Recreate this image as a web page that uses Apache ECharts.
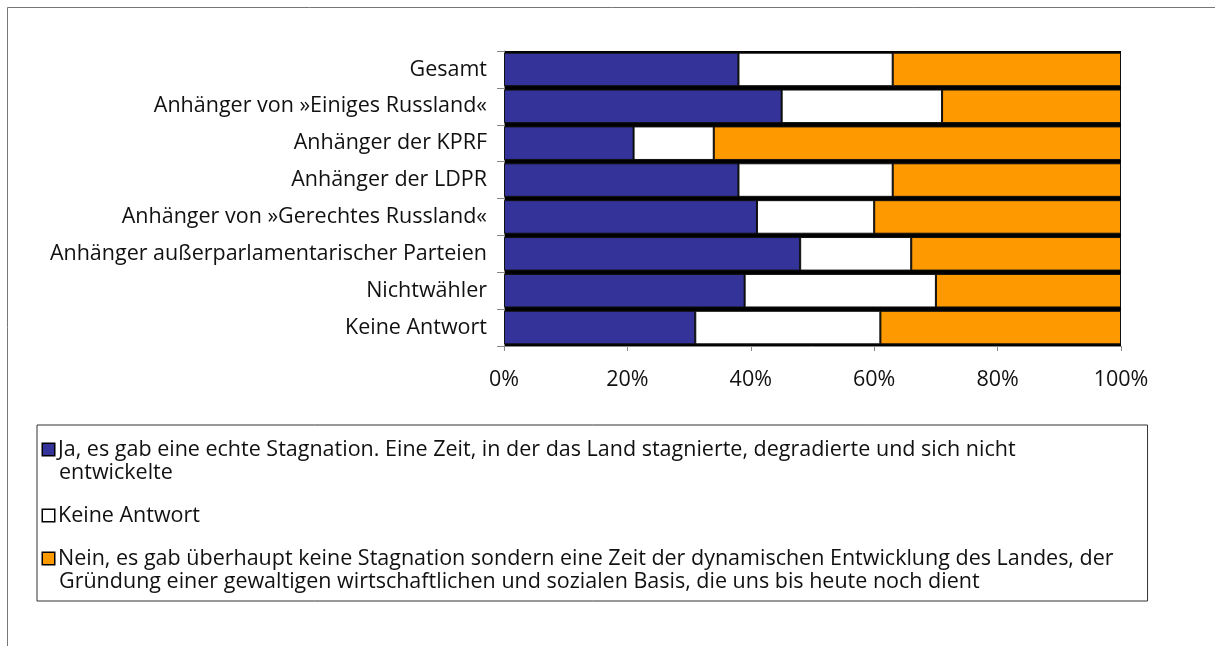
<!DOCTYPE html>
<html>
<head>
<meta charset="utf-8">
<script src="https://cdn.jsdelivr.net/npm/echarts@6/dist/echarts.min.js"></script>
<style>
  html, body { margin: 0; padding: 0; background: #fff; }
  #chart { width: 1215px; height: 646px; }
</style>
</head>
<body>
<div id="chart"></div>
<script>
// Kategorien (von oben nach unten)
const categories = [
    'Gesamt',
    'Anhänger von »Einiges Russland«',
    'Anhänger der KPRF',
    'Anhänger der LDPR',
    'Anhänger von »Gerechtes Russland«',
    'Anhänger außerparlamentarischer Parteien',
    'Nichtwähler',
    'Keine Antwort'
]

// Anteile in %
const jaValues = [38, 45, 21, 38, 41, 48, 39, 31]
const keineValues = [25, 26, 13, 25, 19, 18, 31, 30]
const neinValues = [37, 29, 66, 37, 40, 34, 30, 39]

const seriesNames = [
    'Ja, es gab eine echte Stagnation. Eine Zeit, in der das Land stagnierte, degradierte und sich nicht entwickelte',
    'Keine Antwort ',
    'Nein, es gab überhaupt keine Stagnation sondern eine Zeit der dynamischen Entwicklung des Landes, der Gründung einer gewaltigen wirtschaftlichen und sozialen Basis, die uns bis heute noch dient'
]
// Zeilenumbrüche der Legende wie im Original
const legendLines = [
    ['Ja, es gab eine echte Stagnation. Eine Zeit, in der das Land stagnierte, degradierte und sich nicht', 'entwickelte'],
    ['Keine Antwort'],
    ['Nein, es gab überhaupt keine Stagnation sondern eine Zeit der dynamischen Entwicklung des Landes, der', 'Gründung einer gewaltigen wirtschaftlichen und sozialen Basis, die uns bis heute noch dient']
]
const colors = ['#333399', '#ffffff', '#ff9900']
const iconKeys = ['ja', 'ka', 'ne']

const FONT = '"Open Sans", "Noto Sans", sans-serif'
const FS = 21.5

const chart = echarts.init(document.getElementById('chart'))

const rich = {
    sp: { width: 4, lineHeight: 23 },
    ind: { width: 16, lineHeight: 23 }
}
iconKeys.forEach((k, i) => {
    rich[k] = {
        width: 11, height: 11, lineHeight: 23,
        backgroundColor: colors[i],
        borderColor: '#000', borderWidth: 1.5
    }
})

const option = {
    backgroundColor: '#fff',
    animation: false,
    textStyle: { fontFamily: FONT },
    graphic: [{
        type: 'rect',
        shape: { x: 7.5, y: 7.5, width: 1400, height: 800 },
        style: { fill: 'none', stroke: '#777', lineWidth: 1 },
        silent: true
    }],
    grid: {
        left: 504, right: 94, top: 51, bottom: 300,
        show: true, backgroundColor: '#000', borderWidth: 0
    },
    legend: {
        orient: 'vertical',
        left: 37, top: 425,
        selectedMode: false,
        itemWidth: 0, itemHeight: 0,
        itemGap: 20,
        padding: [13, 34, 8, 0],
        borderColor: '#333', borderWidth: 1,
        data: seriesNames,
        textStyle: { fontSize: FS, lineHeight: 23, color: '#111', fontFamily: FONT, rich: rich },
        formatter: function (name) {
            const i = seriesNames.indexOf(name)
            const lines = legendLines[i]
            let s = '{' + iconKeys[i] + '|}{sp|}' + lines[0]
            if (lines[1]) s += '\n{ind|}' + lines[1]
            return s
        }
    },
    xAxis: {
        type: 'value',
        min: 0, max: 100, interval: 20,
        axisLine: { show: true, lineStyle: { color: '#888' } },
        axisTick: { show: true, length: 5, lineStyle: { color: '#888' } },
        splitLine: { show: false },
        axisLabel: { formatter: '{value}%', fontSize: FS, color: '#111', margin: 23, fontFamily: FONT }
    },
    yAxis: {
        type: 'category',
        inverse: true,
        data: categories,
        axisLine: { show: true, lineStyle: { color: '#888' } },
        axisTick: { show: true, length: 7, lineStyle: { color: '#888' } },
        axisLabel: { fontSize: FS, color: '#111', margin: 17, fontFamily: FONT }
    },
    series: [jaValues, keineValues, neinValues].map((vals, i) => ({
        name: seriesNames[i],
        type: 'bar',
        stack: 'total',
        barCategoryGap: '9%',
        data: vals,
        itemStyle: { color: colors[i], borderColor: '#111', borderWidth: 1 },
        emphasis: { disabled: true }
    }))
}

chart.setOption(option)
</script>
</body>
</html>
